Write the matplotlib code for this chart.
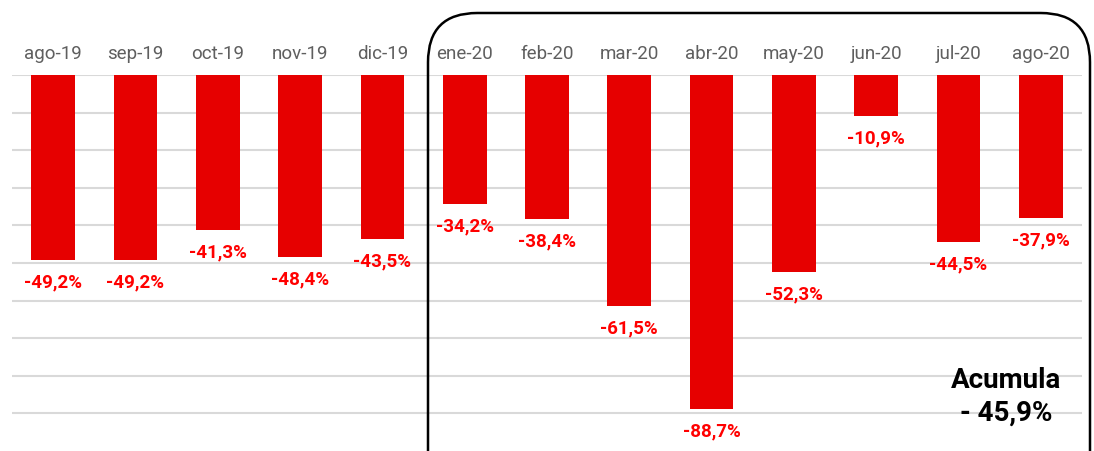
import matplotlib
matplotlib.use('Agg')
from matplotlib import pyplot as plt
from matplotlib.patches import FancyBboxPatch

months = ['ago-19', 'sep-19', 'oct-19', 'nov-19', 'dic-19', 'ene-20', 'feb-20',
          'mar-20', 'abr-20', 'may-20', 'jun-20', 'jul-20', 'ago-20']
values = [-49.2, -49.2, -41.3, -48.4, -43.5, -34.2, -38.4,
          -61.5, -88.7, -52.3, -10.9, -44.5, -37.9]
labels = ['-49,2%', '-49,2%', '-41,3%', '-48,4%', '-43,5%', '-34,2%', '-38,4%',
          '-61,5%', '-88,7%', '-52,3%', '-10,9%', '-44,5%', '-37,9%']
accum_text = 'Acumula\n- 45,9%'

plt.rcParams['font.family'] = ['Roboto', 'DejaVu Sans']

W, H = 1094, 452
fig = plt.figure(figsize=(W / 100, H / 100), dpi=100)
ax = fig.add_axes([12 / W, 0, 1070 / W, 1 - 76 / H])

x = list(range(len(months)))
ax.bar(x, values, width=0.53, color='#e60000', zorder=3)
ax.set_xlim(-0.5, len(months) - 0.5)
ax.set_ylim(-100, 0)
ax.set_yticks(range(-90, 1, 10))
ax.yaxis.grid(True, color='#d9d9d9', lw=1.5, zorder=0)
ax.tick_params(axis='y', left=False, labelleft=False)

ax.xaxis.tick_top()
ax.set_xticks(x)
ax.set_xticklabels(months, fontsize=13.5, color='#5f5f5f')
ax.tick_params(axis='x', top=False, pad=6)
for s in ax.spines.values():
    s.set_visible(False)

for xi, v, lab in zip(x, values, labels):
    ax.annotate(lab, (xi, v), xytext=(0, -9), textcoords='offset points',
                ha='center', va='top', fontsize=13.5, fontweight='bold',
                color='#ff0000', zorder=4)

ax.text(1006 / W, 1 - 397 / H, accum_text, transform=fig.transFigure,
        ha='center', va='center', fontsize=20, fontweight='bold',
        color='black', linespacing=1.25)

box = FancyBboxPatch((428 / W, -0.2), 662 / W, 1.2 - 14 / H,
                     boxstyle='round,pad=0,rounding_size=0.045',
                     transform=fig.transFigure, fill=False, ec='black',
                     lw=1.8, mutation_aspect=W / H, clip_on=False, zorder=5)
fig.patches.append(box)

fig.savefig('out.png', dpi=100)
